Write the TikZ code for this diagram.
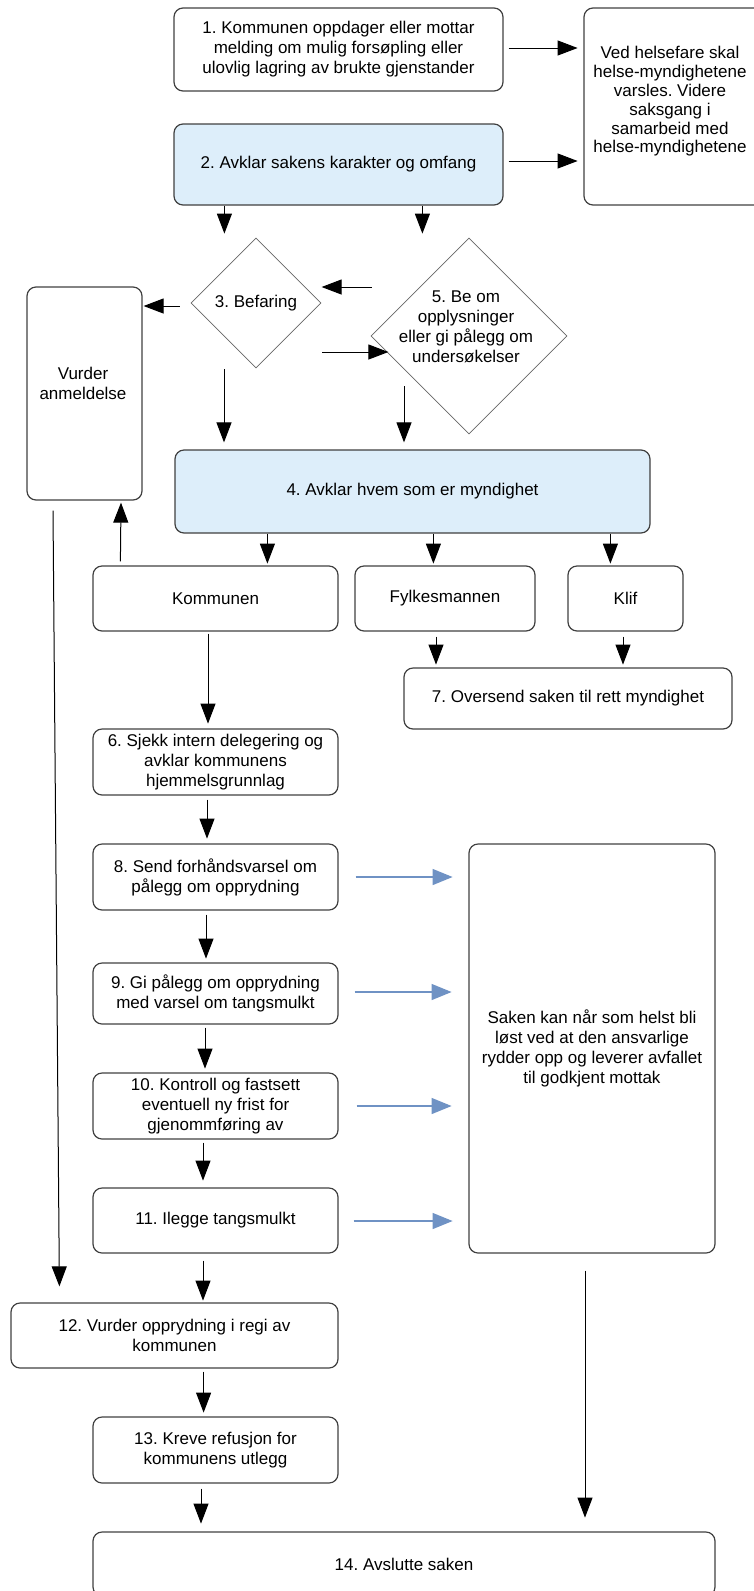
\documentclass[tikz,border=0pt]{standalone}
\usepackage{fontspec}
\setmainfont{Liberation Sans}
\usetikzlibrary{shapes.geometric,arrows.meta}
\definecolor{boxfill}{RGB}{221,238,250}
\definecolor{bluearr}{RGB}{111,146,196}
\definecolor{edgecol}{RGB}{64,64,64}
\newcommand\fsz{\fontsize{17}{20}\selectfont}
\frenchspacing
\begin{document}
\begin{tikzpicture}[x=1pt,y=1pt,
  box/.style={draw=edgecol, line width=1.2pt, rounded corners=9pt, align=center, inner sep=0pt, font=\fsz},
  fbox/.style={box, fill=boxfill},
  dia/.style={draw=edgecol!80, line width=0.8pt, diamond, aspect=1, inner sep=0pt},
  txt/.style={align=center, inner sep=0pt, font=\fsz},
  arr/.style={-{Triangle[length=20pt,width=15pt]}, line width=1pt, black},
  barr/.style={-{Triangle[length=20pt,width=16pt]}, line width=1.3pt, bluearr}]
\useasboundingbox (0,0) rectangle (754,-1591);

% nodes
\node[box, minimum width=329pt, minimum height=83pt] (b1) at (338.5,-49.5)
  {1. Kommunen oppdager eller mottar\\melding om mulig forsøpling eller\\ulovlig lagring av brukte gjenstander};
\node[box, minimum width=186pt, minimum height=197pt] (helse) at (677,-106.5) {};
\node[txt, font=\fontsize{17}{18.8}\selectfont] (helsetxt) at (670,-101.5)
  {Ved helsefare skal\\helse-myndighetene\\varsles. Videre\\saksgang i\\samarbeid med\\helse-myndighetene};
\node[fbox, minimum width=329pt, minimum height=81pt] (b2) at (338.5,-164.5)
  {2. Avklar sakens karakter og omfang};
\node[dia, minimum width=130pt, minimum height=130pt] (d3) at (256,-303) {};
\node[txt] (d3txt) at (256,-303) {3. Befaring};
\node[dia, minimum width=196pt, minimum height=196pt] (d5) at (469,-336) {};
\node[txt] (d5txt) at (466,-326.5) {5. Be om\\opplysninger\\eller gi pålegg om\\undersøkelser};
\node[box, minimum width=115pt, minimum height=213pt] (vurder) at (84.5,-393.5) {};
\node[txt] (vurdertxt) at (83,-383.5) {Vurder\\anmeldelse};
\node[fbox, minimum width=475pt, minimum height=83pt] (b4) at (412.5,-491.5)
  {4. Avklar hvem som er myndighet};
\node[box, minimum width=245pt, minimum height=65pt] (komm) at (215.5,-598.5) {Kommunen};
\node[box, minimum width=180pt, minimum height=65pt] (fylke) at (445,-598.5) {Fylkesmannen};
\node[box, minimum width=115pt, minimum height=65pt] (klif) at (625.5,-598.5) {Klif};
\node[box, minimum width=328pt, minimum height=61pt] (b7) at (568,-698.5)
  {7. Oversend saken til rett myndighet};
\node[box, minimum width=245pt, minimum height=66pt] (b6) at (215.5,-762)
  {6. Sjekk intern delegering og\\avklar kommunens\\hjemmelsgrunnlag};
\node[box, minimum width=245pt, minimum height=66pt] (b8) at (215.5,-877)
  {8. Send forhåndsvarsel om\\pålegg om opprydning};
\node[box, minimum width=245pt, minimum height=61pt] (b9) at (215.5,-993.5)
  {9. Gi pålegg om opprydning\\med varsel om tangsmulkt};
\node[box, minimum width=245pt, minimum height=66pt] (b10) at (215.5,-1106)
  {10. Kontroll og fastsett\\eventuell ny frist for\\gjenommføring av};
\node[box, minimum width=245pt, minimum height=65pt] (b11) at (215.5,-1220.5)
  {11. Ilegge tangsmulkt};
\node[box, minimum width=246pt, minimum height=409pt] (big) at (592,-1048.5)
  {Saken kan når som helst bli\\løst ved at den ansvarlige\\rydder opp og leverer avfallet\\til godkjent mottak};
\node[box, minimum width=327pt, minimum height=65pt] (b12) at (174.5,-1335.5)
  {12. Vurder opprydning i regi av\\kommunen};
\node[box, minimum width=245pt, minimum height=66pt] (b13) at (215.5,-1450)
  {13. Kreve refusjon for\\kommunens utlegg};
\node[box, minimum width=622pt, minimum height=64pt] (b14) at (404,-1564)
  {14. Avslutte saken};

% connectors
\draw[arr] ([shift={(5pt,1.5pt)}]b1.east) -- ++(69,0);
\draw[arr] ([shift={(5pt,3.5pt)}]b2.east) -- ++(69,0);
\draw[arr] ([xshift=51pt]b2.south west) -- ++(0,-28);
\draw[arr] ([xshift=249pt]b2.south west) -- ++(0,-28);
\draw[arr] ([shift={(1pt,49pt)}]d5.west) -- ++(-50,0);
\draw[arr] ([shift={(-11pt,-3pt)}]d3.west) -- ++(-36,0);
\draw[arr] ([shift={(1pt,-49pt)}]d3.east) -- ++(66,0);
\draw[arr] ([shift={(-32pt,-1pt)}]d3.south) -- ++(0,-73);
\draw[arr] ([shift={(-65pt,48pt)}]d5.south) -- ++(0,-56);
\draw[arr] ([xshift=93pt]b4.south west) -- ++(0,-30);
\draw[arr] ([xshift=259pt]b4.south west) -- ++(0,-30);
\draw[arr] ([xshift=436pt]b4.south west) -- ++(0,-30);
\draw[arr] ([shift={(28pt,4pt)}]komm.north west) -- ([shift={(36.5pt,-2pt)}]vurder.south);
\draw[arr] ([shift={(-31.5pt,-10pt)}]vurder.south) -- ([shift={(49pt,16pt)}]b12.north west);
\draw[arr] ([shift={(-9pt,-5pt)}]fylke.south) -- ++(0,-28);
\draw[arr] ([shift={(-2.5pt,-5pt)}]klif.south) -- ++(0,-28);
\draw[arr] ([shift={(-7.5pt,-2pt)}]komm.south) -- ++(0,-90);
\draw[arr] ([shift={(-8.5pt,-4pt)}]b6.south) -- ++(0,-39);
\draw[arr] ([shift={(-9.5pt,-4pt)}]b8.south) -- ++(0,-44);
\draw[arr] ([shift={(-10.5pt,-3pt)}]b9.south) -- ++(0,-41);
\draw[arr] ([shift={(-12.5pt,-3pt)}]b10.south) -- ++(0,-38);
\draw[arr] ([shift={(-12.5pt,-7pt)}]b11.south) -- ++(0,-40);
\draw[arr] ([shift={(-135pt,-3pt)}]b12.south east) -- ++(0,-41);
\draw[arr] ([shift={(-14.5pt,-5pt)}]b13.south) -- ++(0,-35);
\draw[arr] ([shift={(-7pt,-17pt)}]big.south) -- ++(0,-247);
\draw[barr] ([xshift=17pt]b8.east) -- ++(97,0);
\draw[barr] ([shift={(16pt,1.5pt)}]b9.east) -- ++(97,0);
\draw[barr] ([xshift=18pt]b10.east) -- ++(95,0);
\draw[barr] ([shift={(15pt,-0.5pt)}]b11.east) -- ++(99,0);
\end{tikzpicture}
\end{document}
